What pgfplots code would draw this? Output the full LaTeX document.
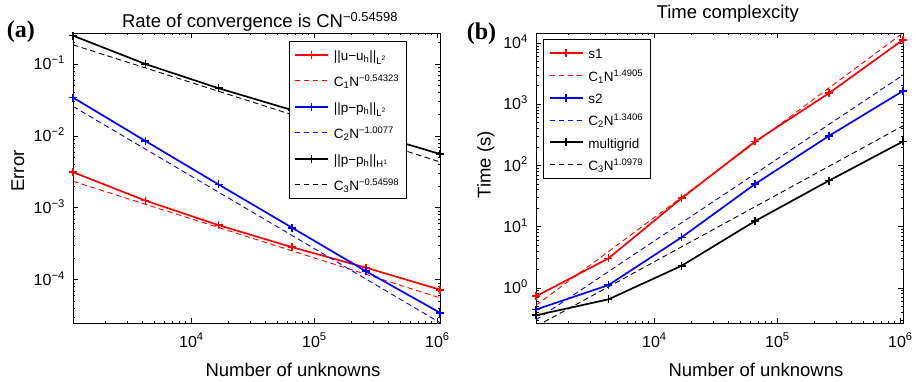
\documentclass[border=0pt]{standalone}
\usepackage{fontspec}
\setmainfont{Liberation Sans}
\newfontfamily\serifbf{Liberation Serif}
\usepackage{pgfplots}
\pgfplotsset{compat=1.18}
\newcommand\lstrut{\rule[-6bp]{0pt}{19bp}}
\tikzset{
  sol/.style={line width=1.7bp, mark=+, mark size=4bp, mark options={solid, line width=1.6bp}},
  dsh/.style={line width=0.9bp, dash pattern=on 5.5bp off 3.5bp},
}
\pgfplotsset{
  every axis/.append style={
    scale only axis,
    tick align=inside,
    major tick length=5bp, minor tick length=2.5bp,
    axis line style={line width=0.9bp},
    tick style={line width=0.7bp, black},
    tick label style={font=\fontsize{16bp}{18bp}\selectfont, inner sep=0pt},
    xticklabel style={anchor=base, yshift=-24bp},
    yticklabel style={anchor=base east, xshift=-8bp, yshift=-5.7bp},
    label style={font=\fontsize{18.5bp}{20bp}\selectfont},
    title style={font=\fontsize{18.5bp}{20bp}\selectfont, anchor=base},
    xlabel style={at={(axis description cs:0.5,0)}, anchor=base, xshift=36.5bp, yshift=-53bp},
    legend style={font=\fontsize{13.5bp}{15bp}\selectfont, draw=black, line width=0.8bp,
      inner xsep=5bp, inner ysep=4.5bp, /tikz/every odd column/.append style={column sep=3bp}},
    legend cell align=left,
  },
  legend image code/.code={\draw[mark repeat=2, mark phase=2, #1] plot coordinates {(0bp,0bp) (16.5bp,0bp) (33bp,0bp)};},
}
\begin{document}
\begin{tikzpicture}
\useasboundingbox (0,0) rectangle (916bp,382bp);
% ---------------- panel (a)
\begin{axis}[
  xmode=log, ymode=log,
  width=367bp, height=290bp,
  at={(73bp,59bp)}, anchor=south west,
  xmin=1089, xmax=1050625,
  ymin=2.5e-5, ymax=0.27,
  xtick={1e4,1e5,1e6},
  xticklabels={10\textsuperscript{4},10\textsuperscript{5},10\textsuperscript{6}},
  minor xtick={2000,3000,4000,5000,6000,7000,8000,9000,20000,30000,40000,50000,60000,70000,80000,90000,200000,300000,400000,500000,600000,700000,800000,900000},
  ytick={1e-4,1e-3,1e-2,1e-1},
  yticklabels={10\textsuperscript{−4},10\textsuperscript{−3},10\textsuperscript{−2},10\textsuperscript{−1}},
  minor ytick={3e-5,4e-5,5e-5,6e-5,7e-5,8e-5,9e-5,2e-4,3e-4,4e-4,5e-4,6e-4,7e-4,8e-4,9e-4,2e-3,3e-3,4e-3,5e-3,6e-3,7e-3,8e-3,9e-3,2e-2,3e-2,4e-2,5e-2,6e-2,7e-2,8e-2,9e-2,0.2},
  xlabel={Number of unknowns},
  ylabel={Error},
  ylabel style={at={(axis description cs:0,0.5)}, anchor=base, xshift=7bp, yshift=49bp},
  title={Rate of convergence is CN\textsuperscript{−0.54598}},
  title style={at={(axis description cs:0.5,1)}, xshift=3.5bp, yshift=-0.3bp},
  legend style={at={(axis description cs:0.909,0.9734)}, anchor=north east, row sep=7.5bp},
]
\addplot[sol, red] coordinates {(1089,3.13e-3) (4225,1.26e-3) (16641,5.73e-4) (66049,2.83e-4) (263169,1.47e-4) (1050625,7.26e-5)};
\addlegendentry{\lstrut||u−u\textsubscript{h}||\textsubscript{L\textsuperscript{2}}}
\addplot[dsh, red] coordinates {(1089,2.34e-3) (1050625,5.6e-5)};
\addlegendentry{\lstrut C\textsubscript{1}N\textsuperscript{−0.54323}}
\addplot[sol, blue] coordinates {(1089,3.42e-2) (4225,8.5e-3) (16641,2.11e-3) (66049,5.27e-4) (263169,1.31e-4) (1050625,3.47e-5)};
\addlegendentry{\lstrut||p−p\textsubscript{h}||\textsubscript{L\textsuperscript{2}}}
\addplot[dsh, blue] coordinates {(1089,2.57e-2) (1050625,2.53e-5)};
\addlegendentry{\lstrut C\textsubscript{2}N\textsuperscript{−1.0077}}
\addplot[sol, black] coordinates {(1089,0.248) (4225,0.100) (16641,4.6e-2) (66049,2.28e-2) (263169,1.13e-2) (1050625,5.6e-3)};
\addlegendentry{\lstrut||p−p\textsubscript{h}||\textsubscript{H\textsuperscript{1}}}
\addplot[dsh, black] coordinates {(1089,0.185) (1050625,4.35e-3)};
\addlegendentry{\lstrut C\textsubscript{3}N\textsuperscript{−0.54598}}
\end{axis}
% ---------------- panel (b)
\begin{axis}[
  xmode=log, ymode=log,
  width=367bp, height=290bp,
  at={(536bp,59bp)}, anchor=south west,
  xmin=1089, xmax=1050625,
  ymin=0.267, ymax=1.46e4,
  xtick={1e4,1e5,1e6},
  xticklabels={10\textsuperscript{4},10\textsuperscript{5},10\textsuperscript{6}},
  minor xtick={2000,3000,4000,5000,6000,7000,8000,9000,20000,30000,40000,50000,60000,70000,80000,90000,200000,300000,400000,500000,600000,700000,800000,900000},
  ytick={1,10,100,1000,10000},
  yticklabels={10\textsuperscript{0},10\textsuperscript{1},10\textsuperscript{2},10\textsuperscript{3},10\textsuperscript{4}},
  minor ytick={0.3,0.4,0.5,0.6,0.7,0.8,0.9,2,3,4,5,6,7,8,9,20,30,40,50,60,70,80,90,200,300,400,500,600,700,800,900,2000,3000,4000,5000,6000,7000,8000,9000},
  xlabel={Number of unknowns},
  ylabel={Time (s)},
  ylabel style={at={(axis description cs:0,0.5)}, anchor=base, xshift=13.3bp, yshift=45.5bp},
  title={Time complexcity},
  title style={at={(axis description cs:0.5,1)}, xshift=8.3bp, yshift=8.7bp},
  legend style={at={(axis description cs:0.02,0.979)}, anchor=north west, row sep=3.8bp},
]
\addplot[sol, red] coordinates {(1089,0.73) (4225,3.03) (16641,29.2) (66049,247) (263169,1520) (1050625,11300)};
\addlegendentry{\lstrut s1}
\addplot[dsh, red] coordinates {(1089,0.52) (1050625,1.46e4)};
\addlegendentry{\lstrut C\textsubscript{1}N\textsuperscript{1.4905}}
\addplot[sol, blue] coordinates {(1089,0.443) (4225,1.11) (16641,6.7) (66049,50) (263169,305) (1050625,1650)};
\addlegendentry{\lstrut s2}
\addplot[dsh, blue] coordinates {(1089,0.30) (1050625,3.0e3)};
\addlegendentry{\lstrut C\textsubscript{2}N\textsuperscript{1.3406}}
\addplot[sol, black] coordinates {(1089,0.357) (4225,0.65) (16641,2.3) (66049,12.4) (263169,56.6) (1050625,247)};
\addlegendentry{\lstrut multigrid}
\addplot[dsh, black] coordinates {(1089,0.235) (1050625,444)};
\addlegendentry{\lstrut C\textsubscript{3}N\textsuperscript{1.0979}}
\end{axis}
% panel labels
\node[anchor=base west, inner sep=0pt, font=\serifbf\bfseries\fontsize{24bp}{26bp}\selectfont] at (6.7bp,344.5bp) {(a)};
\node[anchor=base west, inner sep=0pt, font=\serifbf\bfseries\fontsize{24bp}{26bp}\selectfont] at (466.7bp,342bp) {(b)};
\end{tikzpicture}
\end{document}
